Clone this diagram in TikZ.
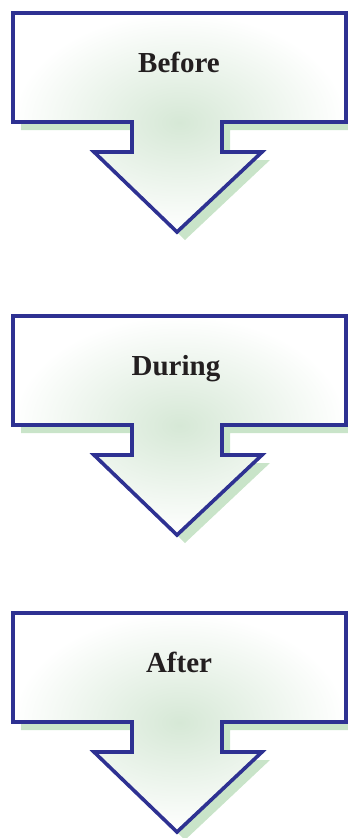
\documentclass[tikz,border=0pt]{standalone}
\usepackage{fontspec}
\setmainfont{Liberation Serif}
\definecolor{STGnavy}{HTML}{2E3192}
\definecolor{STGshade}{HTML}{C9E4C9}
\definecolor{STGmint}{HTML}{D6E8D6}
\definecolor{STGink}{HTML}{231F20}
\tikzset{stgarrow/.style={draw=STGnavy,line width=3.6pt,miter limit=10,
 shading=radial,inner color=STGmint,outer color=white},
 stgshadow/.style={fill=STGshade,draw=none},
 stglabel/.style={text=STGink,anchor=base,
 font=\fontsize{29}{30}\selectfont\bfseries}}

\begin{document}
\begin{tikzpicture}[x=1pt,y=-1pt]
\useasboundingbox (0,0) rectangle (348,838);
\foreach \nm/\lbl/\dy/\tx in {before/Before/0/179,during/During/303/176,after/After/600/179}{
 \begin{scope}[shift={(0,\dy)}]
 % drop shadow first, then the arrow itself
 \fill[stgshadow,shift={(8,8)}] (13,13) -- (346,13) -- (346,122) -- (222,122)
 -- (222,152) -- (262,152) -- (177,232) -- (94,152) -- (132,152) -- (132,122)
 -- (13,122) -- cycle;
 \draw[stgarrow] (13,13) -- (346,13) -- (346,122) -- (222,122)
 -- (222,152) -- (262,152) -- (177,232) -- (94,152) -- (132,152) -- (132,122)
 -- (13,122) -- cycle;
 \node[stglabel] (\nm) at (\tx,72) {\lbl};
 \end{scope}
}
\end{tikzpicture}
\end{document}
